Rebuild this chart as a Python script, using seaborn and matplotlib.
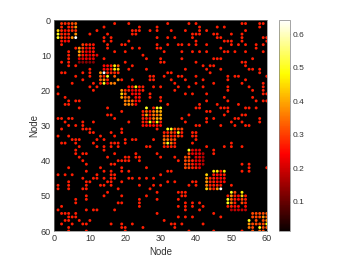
import numpy as np
import pandas as pd
import matplotlib
matplotlib.use("Agg")
import matplotlib.pyplot as plt
import seaborn as sns

sns.set_style("white")
plt.rcParams['font.family'] = ['Liberation Sans', 'DejaVu Sans']

# weak links outside the communities, columns listed per row (row 1 first)
weak_cols = [
    [17, 21, 32, 38, 40, 53, 54, 58, 59],
    [14, 24, 29, 41, 46, 48, 58],
    [12, 22, 23, 24, 27, 29, 33, 37, 41, 43, 54],
    [10, 15, 22, 23, 39, 40, 41, 45, 46, 50, 53],
    [14, 16, 29, 32, 34, 39, 46, 47, 53, 59, 60],
    [14, 16, 21, 40, 48, 49, 50, 53, 60],
    [2, 15, 19, 20, 29, 32, 35, 36, 38, 40, 43, 50, 52, 54, 57, 59],
    [6, 15, 22, 24, 29, 30, 47, 57],
    [4, 17, 20, 31, 36, 39, 41, 43, 48, 49, 51, 54, 59],
    [4, 25],
    [4, 14, 26, 30, 36, 45, 46, 47, 56],
    [2, 4, 20, 30, 31, 40, 53, 54],
    [4, 6, 22, 42, 44, 45, 54],
    [10, 21, 26, 37, 43, 47, 55, 56, 58],
    [2, 3, 8, 10, 32, 33, 44, 58],
    [6, 10, 27, 28, 31, 35, 36, 40, 49, 51, 52, 60],
    [8, 19, 22, 27, 28, 33, 37, 42, 49, 54],
    [5, 11, 34, 40, 45, 53, 59],
    [1, 10, 12, 25, 28, 30, 35, 38, 42, 49, 55, 59],
    [11, 25, 34, 49, 56, 59],
    [1, 27, 37, 39, 43, 59, 60],
    [3, 27, 30, 48, 56],
    [4, 6, 7, 30, 43, 49, 57, 59, 60],
    [3, 4, 32, 41, 46, 52],
    [7, 15, 40, 41, 47, 48, 49, 54, 55, 57],
    [19, 43, 44, 49],
    [15, 16, 38, 48, 53, 54],
    [1, 2, 4, 5, 17, 36, 43, 45, 51, 52, 58],
    [3, 8, 11, 21, 37, 43, 50, 53, 58],
    [4, 6, 8, 40, 41, 47, 51, 54, 55],
    [2, 8, 9, 10, 19, 29],
    [10, 11, 16, 19, 39, 40],
    [1, 4, 13, 17, 39, 40],
    [5, 6, 7, 12, 14, 20, 22, 23, 28, 40],
    [2, 3, 6, 11, 16, 17, 18, 20, 39, 50],
    [7, 12, 14, 16, 18, 26, 27, 43, 48, 50, 53],
    [6, 14, 45],
    [6, 8, 9, 17, 23, 29, 45],
    [7, 15, 20, 21, 23, 24, 30, 34],
    [8, 18, 19, 20, 21, 24, 35],
    [9, 16, 17, 53, 55],
    [4, 13, 19, 26, 55, 60],
    [9, 14, 16, 19, 21, 32, 33, 53, 55],
    [1, 3, 5, 12, 16, 17, 30],
    [8, 11, 12, 14, 16, 17, 21, 22, 24, 26, 28],
    [4, 9, 10, 15, 16, 19, 32, 34, 39, 40],
    [1, 4, 9, 13, 14, 16, 24, 28, 30, 38, 40, 50],
    [1, 4, 8, 9, 18, 27],
    [15, 29, 35, 36, 37],
    [9, 14, 19, 26, 36, 37],
    [6, 9, 24, 29, 35],
    [6, 18, 19, 24, 37, 39, 41],
    [2, 24, 35, 37, 39, 42],
    [1, 9, 11, 12, 17, 37, 41],
    [2, 3, 4, 6, 29, 45],
    [4, 5, 6, 35, 37, 39, 47],
    [3, 4, 7, 10, 31],
    [2, 5, 8, 9, 16, 19, 22, 33, 34, 36, 42],
    [4, 19, 20, 25, 34],
    [4, 9, 20, 38, 45, 53],
]
weak_value = 0.27

# communities along the diagonal, 0 means no link
block_starts = [1, 7, 13, 19, 25, 31, 37, 43, 49, 55]
block_01 = [[0, .29, .28, .28, .31, .33],
            [0, .28, 0, .27, .28, .38],
            [.44, .28, .25, .27, .28, .28],
            [.50, .28, .27, .27, 0, .38],
            [.50, .31, .27, .28, .38, .64],
            [0, .26, .25, .25, 0, 0]]
block_02 = [[0, .30, .27, .27, .26, 0],
            [.38, .30, .22, .26, .26, 0],
            [.40, .28, .22, .24, .26, 0],
            [.36, .26, .24, .22, .26, .22],
            [.22, .22, .22, .22, .22, 0],
            [.13, .13, .13, .13, .13, 0]]
block_03 = [[0, .25, .25, .27, .47, .33],
            [0, .25, .25, .27, .47, .44],
            [.38, .64, .28, .28, .28, .28],
            [.33, .27, .50, 0, .33, 0],
            [.33, .38, .27, 0, 0, .38],
            [.27, .50, .22, .36, .36, 0]]
block_04 = [[0, 0, .25, .27, .47, .27],
            [.38, .28, .27, .22, .25, .25],
            [.44, .33, 0, .25, .25, .25],
            [.40, .33, .33, 0, .25, .25],
            [0, .36, .36, .33, .25, .25],
            [0, .36, .38, .33, .24, 0]]
block_05 = [[0, .50, 0, .27, .50, .50],
            [.27, .32, .27, .35, .40, .40],
            [.27, .40, .27, .35, .35, .40],
            [.27, .27, .27, .35, .40, .40],
            [.27, .27, .47, .27, .47, .27],
            [.25, .25, .25, .25, .25, .25]]
block_06 = [[0, .50, .50, .31, .31, .31],
            [.27, .27, .31, .27, .47, .27],
            [.31, .31, .27, .27, .31, .27],
            [.35, .35, .31, .31, 0, 0],
            [.35, .50, .35, .27, 0, 0],
            [.27, .27, .27, .27, 0, 0]]
block_07 = [[0, .50, .22, .22, .22, 0],
            [0, .31, .22, .22, .22, .17],
            [.31, .31, 0, .22, .22, .17],
            [.31, .31, .27, .22, .22, .17],
            [.31, .31, .27, .22, .22, .17],
            [.31, .31, .27, .27, .22, 0]]
block_08 = [[0, 0, .46, .46, .27, .46],
            [.44, 0, .27, .25, .25, .27],
            [.38, .27, .27, .25, .25, .25],
            [.38, .27, .27, .25, .25, .25],
            [.36, .27, .27, .27, .27, 0],
            [.44, .33, .27, .38, .64, 0]]
block_09 = [[0, .50, .31, 0, .47, 0],
            [.27, .38, .27, .25, .44, .27],
            [.50, .33, .27, .25, .31, .27],
            [.50, .36, .27, 0, .31, .27],
            [.27, .27, .25, .25, 0, .25],
            [0, .17, .19, .19, .19, .19]]
block_10 = [[0, .31, .31, .31, .31, .33],
            [0, .31, .31, .31, .38, .33],
            [.50, 0, .31, 0, .31, .38],
            [.38, .31, .31, .31, .31, .48],
            [.35, .31, 0, .50, .31, .33],
            [0, .31, 0, .33, .31, 0]]
blocks = [block_01, block_02, block_03, block_04, block_05,
          block_06, block_07, block_08, block_09, block_10]

tick_values = [0, 10, 20, 30, 40, 50, 60]
bar_ticks = [0.1, 0.2, 0.3, 0.4, 0.5, 0.6]
value_min = 0.013
value_max = 0.643

# long table of node pairs
rows, cols, vals = [], [], []
for i, row_links in enumerate(weak_cols):
    for c in row_links:
        rows.append(i + 1)
        cols.append(c)
        vals.append(weak_value)
for start, block in zip(block_starts, blocks):
    for i, line in enumerate(block):
        for j, v in enumerate(line):
            if v > 0:
                rows.append(start + i)
                cols.append(start + j)
                vals.append(v)
links = pd.DataFrame({'row': rows, 'col': cols, 'value': vals})

fig = plt.figure(figsize=(3.46, 2.6), dpi=100)
ax = fig.add_axes([0.1575, 0.1115, 0.6135, 0.8115])
ax.set_facecolor('black')

norm = plt.Normalize(value_min, value_max)
sns.scatterplot(data=links, x='col', y='row', hue='value', palette='hot',
                hue_norm=norm, marker='o', s=4.4, linewidth=0, legend=False, ax=ax)

ax.set_xlim(0, 60)
ax.set_ylim(60, 0)
ax.set_xticks(tick_values)
ax.set_yticks(tick_values)
ax.tick_params(direction='in', length=2, width=0.4, color='0.5',
               labelsize=6.5, labelcolor='0.2', pad=2.5)
ax.set_xlabel('Node', fontsize=7, color='0.2', labelpad=2.5)
ax.set_ylabel('Node', fontsize=7, color='0.2', labelpad=1.5)
for s in ax.spines.values():
    s.set_color('0.5')
    s.set_linewidth(0.5)

cax = fig.add_axes([0.805, 0.1115, 0.033, 0.8115])
sm = plt.cm.ScalarMappable(norm=norm, cmap='hot')
cbar = fig.colorbar(sm, cax=cax, ticks=bar_ticks)
cbar.ax.tick_params(direction='in', length=1.5, width=0.4, color='0.5',
                    labelsize=6, labelcolor='0.2', pad=2)
cbar.outline.set_edgecolor('0.5')
cbar.outline.set_linewidth(0.5)

plt.savefig('out.png', dpi=100)
